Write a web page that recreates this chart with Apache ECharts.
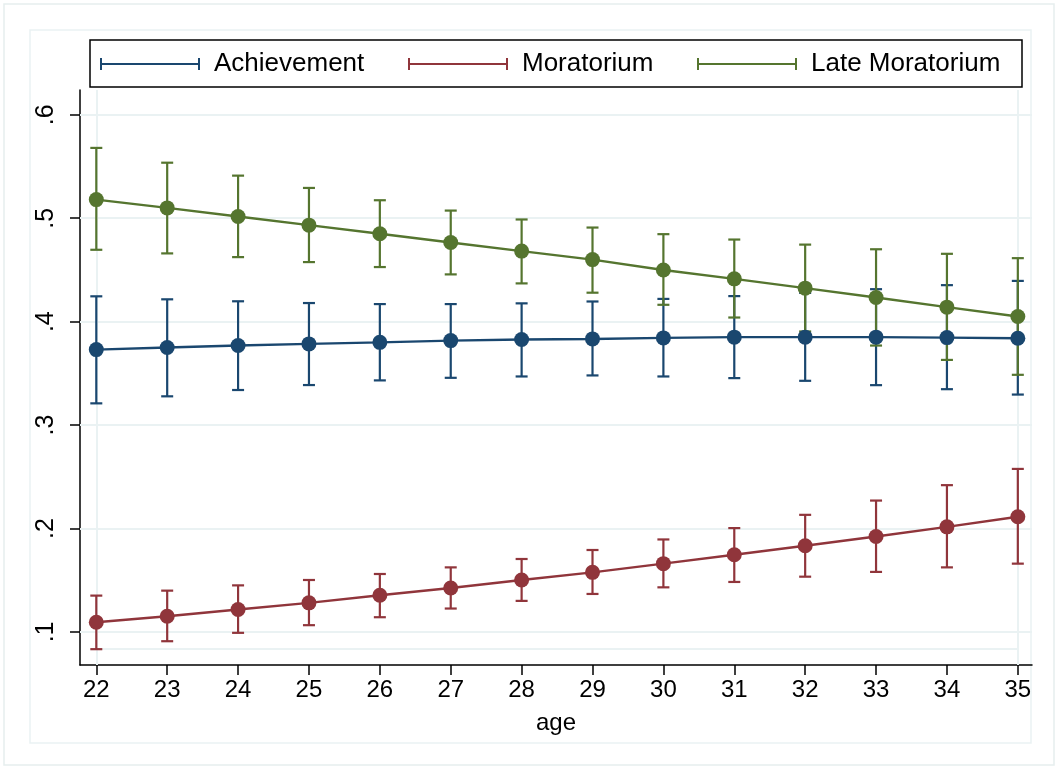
<!DOCTYPE html>
<html><head><meta charset="utf-8">
<script src="https://cdn.jsdelivr.net/npm/echarts@6/dist/echarts.min.js"></script>
<style>html,body{margin:0;padding:0;background:#fff}#c{width:1059px;height:770px}</style>
</head><body><div id="c"></div>
<script>
const ages = [22,23,24,25,26,27,28,29,30,31,32,33,34,35];
const yTicks = [0.1,0.2,0.3,0.4,0.5,0.6];
const seriesNames = ['Achievement','Moratorium','Late Moratorium'];
const achMean = [0.373,0.375,0.377,0.3785,0.380,0.3817,0.3827,0.3833,0.3843,0.385,0.385,0.385,0.3846,0.384];
const achHi   = [0.4245,0.4216,0.4197,0.418,0.417,0.417,0.4177,0.4195,0.422,0.4247,0.4278,0.4314,0.4353,0.4394];
const achLo   = [0.321,0.3278,0.3339,0.3387,0.3432,0.3457,0.347,0.348,0.347,0.3454,0.3428,0.3386,0.3347,0.3295];
const morMean = [0.1094,0.1152,0.1216,0.1281,0.1354,0.1425,0.1502,0.1576,0.166,0.1746,0.1833,0.1923,0.2016,0.2113];
const morHi   = [0.1351,0.1399,0.145,0.1502,0.156,0.1624,0.1705,0.1792,0.1894,0.2004,0.2132,0.227,0.2419,0.2576];
const morLo   = [0.0833,0.091,0.0991,0.1065,0.1142,0.1226,0.13,0.1367,0.1431,0.1483,0.1534,0.158,0.1624,0.166];
const lateMean= [0.518,0.510,0.5017,0.4933,0.485,0.4766,0.4682,0.460,0.450,0.4414,0.4324,0.4233,0.414,0.405];
const lateHi  = [0.568,0.5537,0.5412,0.5293,0.5174,0.5074,0.4988,0.491,0.4846,0.4794,0.4745,0.470,0.4656,0.4614];
const lateLo  = [0.4695,0.466,0.4624,0.4576,0.4528,0.4457,0.437,0.428,0.4163,0.404,0.3905,0.3769,0.363,0.3486];

const colors = ['#1a476f','#90353b','#55752f'];
const FONT = 'Liberation Sans';
const gridColor = '#eaf2f3';

const means = [achMean, morMean, lateMean];
const his = [achHi, morHi, lateHi];
const los = [achLo, morLo, lateLo];

const chart = echarts.init(document.getElementById('c'));

function errSeries(i){
  const data = ages.map((a,k)=>[a, los[i][k], his[i][k]]);
  return {
    type:'custom', name: seriesNames[i], z: 3, silent:true, clip:false,
    data: data,
    encode:{x:0,y:[1,2]},
    renderItem: function(params, api){
      const x = api.value(0);
      const lo = api.coord([x, api.value(1)]);
      const hi = api.coord([x, api.value(2)]);
      const w = 6;
      const st = {stroke: colors[i], lineWidth: 2.2};
      return {type:'group', children:[
        {type:'line', shape:{x1:lo[0],y1:lo[1],x2:hi[0],y2:hi[1]}, style:st},
        {type:'line', shape:{x1:lo[0]-w,y1:lo[1],x2:lo[0]+w,y2:lo[1]}, style:st},
        {type:'line', shape:{x1:hi[0]-w,y1:hi[1],x2:hi[0]+w,y2:hi[1]}, style:st}
      ]};
    }
  };
}
function lineSeries(i){
  return {
    type:'line', name: seriesNames[i], z: 5,
    data: ages.map((a,k)=>[a, means[i][k]]),
    symbol:'circle', symbolSize: 15, showSymbol:true,
    lineStyle:{color:colors[i], width:2.4},
    itemStyle:{color:colors[i]},
    color: colors[i]
  };
}
const dataMin = Math.min(...morLo);
const guide = {
  type:'line', data:[], z:1, silent:true,
  markLine:{
    silent:true, symbol:'none', animation:false, z:1,
    lineStyle:{color:gridColor, width:2, type:'solid'},
    label:{show:false},
    data:[
      ...yTicks.map(v=>({yAxis:v})),
      [{coord:[ages[0], dataMin]},{coord:[ages[ages.length-1], dataMin]}],
      [{coord:[ages[0], 0.624]},{coord:[ages[0], 0.068]}],
      [{coord:[ages[ages.length-1], 0.624]},{coord:[ages[ages.length-1], 0.068]}]
    ]
  }
};
const icon = 'path://M0,0h2v12h-2z M2,5h96v2h-96z M98,0h2v12h-2z';
function legendFor(i,left){
  return {
    data:[{name:seriesNames[i], icon: icon, itemStyle:{color:colors[i]}}],
    left:left, top:51, itemWidth:100, itemHeight:12, itemGap:0, z:20,
    textStyle:{fontFamily:FONT, fontSize:26, color:'#000', padding:[0,0,0,9]},
    selectedMode:false, padding:0
  };
}

chart.setOption({
  animation:false,
  backgroundColor:'#fff',
  textStyle:{fontFamily:FONT},
  graphic:[
    {type:'rect', shape:{x:4,y:4,width:1050,height:761}, style:{fill:'none', stroke:'#e6eeee', lineWidth:1.5}, z:-1},
    {type:'rect', shape:{x:30,y:30,width:1001,height:713}, style:{fill:'none', stroke:'#eaf2f3', lineWidth:1.5}, z:-1},
    {type:'rect', shape:{x:90,y:40,width:932,height:47}, style:{fill:'#fff', stroke:'#000', lineWidth:1.5}, z:-1}
  ],
  legend:[legendFor(0,100), legendFor(1,408), legendFor(2,697)],
  grid:{left:80, right:27, top:90, bottom:105, containLabel:false},
  xAxis:{
    type:'value', min:21.77, max:35.2,
    name:'age', nameLocation:'middle', nameGap:46,
    nameTextStyle:{fontFamily:FONT, fontSize:24, color:'#000'},
    axisLine:{show:true, onZero:false, lineStyle:{color:'#000', width:1.5}},
    axisTick:{show:true, length:10, lineStyle:{color:'#000', width:1.5}, customValues:ages},
    axisLabel:{fontFamily:FONT, fontSize:24, color:'#000', margin:13, customValues:ages, formatter:v=>String(v)},
    splitLine:{show:false}
  },
  yAxis:{
    type:'value', min:0.068, max:0.624,
    axisLine:{show:true, onZero:false, lineStyle:{color:'#000', width:1.5}},
    axisTick:{show:true, length:10, lineStyle:{color:'#000', width:1.5}, customValues:yTicks},
    axisLabel:{fontFamily:FONT, fontSize:25, color:'#000', rotate:90, margin:21, customValues:yTicks,
      formatter:v=>v.toFixed(1).replace(/^0/,'')},
    splitLine:{show:false}
  },
  series:[guide, errSeries(0), errSeries(1), errSeries(2), lineSeries(0), lineSeries(1), lineSeries(2)]
});
</script></body></html>
